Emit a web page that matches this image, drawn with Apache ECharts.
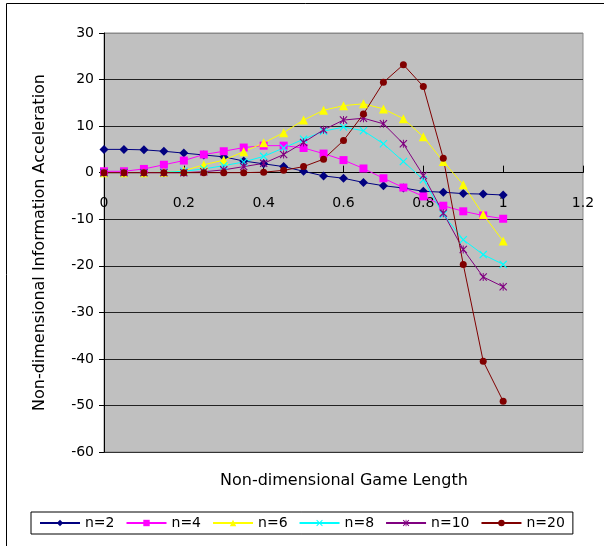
<!DOCTYPE html>
<html>
<head>
<meta charset="utf-8">
<script src="https://cdn.jsdelivr.net/npm/echarts@6/dist/echarts.min.js"></script>
<style>html,body{margin:0;padding:0;background:#fff;}#c{width:604px;height:546px;}</style>
</head>
<body>
<div id="c"></div>
<script>
const xs = [0,0.05,0.1,0.15,0.2,0.25,0.3,0.35,0.4,0.45,0.5,0.55,0.6,0.65,0.7,0.75,0.8,0.85,0.9,0.95,1.0];
const n2  = [5,5,4.9,4.6,4.2,3.8,3.4,2.5,1.9,1.3,0.3,-0.7,-1.2,-2.1,-2.8,-3.3,-4.0,-4.2,-4.5,-4.6,-4.8];
const n4  = [0.3,0.3,0.8,1.7,2.6,3.9,4.6,5.4,5.8,5.8,5.3,4.1,2.7,0.9,-1.2,-3.2,-5.1,-7.1,-8.3,-9.2,-9.9];
const n6  = [0,0,0,0.1,0.4,1.7,2.7,4.5,6.4,8.6,11.3,13.4,14.4,14.8,13.7,11.6,7.7,2.4,-2.6,-9.0,-14.7];
const n8  = [0,0,0,0.1,0.3,0.8,1.5,2.3,3.5,5.3,7.2,8.9,9.8,9.0,6.2,2.4,-1.5,-9.0,-14.4,-17.6,-19.7];
const n10 = [0,0,0,0,0,0.2,0.6,1.3,2.0,3.9,6.5,9.2,11.3,11.7,10.5,6.2,-0.6,-8.7,-16.5,-22.4,-24.5];
const n20 = [0,0,0,0,0,0,0,0,0.1,0.5,1.3,2.9,6.9,12.6,19.4,23.2,18.5,3.1,-19.7,-40.5,-49.1];
const names = ['n=2','n=4','n=6','n=8','n=10','n=20'];
const yTicks = [-60,-50,-40,-30,-20,-10,0,10,20,30];
const xTicks = [0,0.2,0.4,0.6,0.8,1.0,1.2];

const FONT = 'DejaVu Sans';
const xSym = 'path://M0,1L1,0L5,4L9,0L10,1L6,5L10,9L9,10L5,6L1,10L0,9L4,5Z';
const starSym = 'path://M0,1L1,0L5,4L9,0L10,1L6,5L10,9L9,10L5,6L1,10L0,9L4,5Z M4.4,0L5.6,0L5.6,10L4.4,10Z';
const styles = [
  {c:'#000080', s:'diamond', z:9},
  {c:'#FF00FF', s:'rect', z:8},
  {c:'#FFFF00', s:'triangle', z:9},
  {c:'#00FFFF', s:xSym, z:8},
  {c:'#800080', s:starSym, z:8},
  {c:'#800000', s:'circle', z:7}
];
const all = [n2,n4,n6,n8,n10,n20];
const series = all.map((arr,i)=>({
  name: names[i],
  type: 'line',
  data: xs.map((x,j)=>[x,arr[j]]),
  symbol: styles[i].s,
  symbolSize: styles[i].z,
  showAllSymbol: true,
  lineStyle: {color: styles[i].c, width: 1},
  itemStyle: {color: styles[i].c},
  emphasis: {disabled: true},
  animation: false
}));

const GRID = {left: 104, right: 21, top: 33, bottom: 94};
const plotH = 546 - GRID.top - GRID.bottom;
const yMin = yTicks[0], yMax = yTicks[yTicks.length-1];
const zeroOffset = -(0 - yMin) / (yMax - yMin) * plotH;

const chart = echarts.init(document.getElementById('c'));
chart.setOption({
  animation: false,
  textStyle: {fontFamily: FONT},
  grid: Object.assign({show: true, backgroundColor: '#C0C0C0', borderColor: '#8a8a8a', borderWidth: 1}, GRID),
  xAxis: {
    type: 'value', min: xTicks[0], max: xTicks[xTicks.length-1], interval: 0.2,
    position: 'bottom',
    offset: zeroOffset,
    axisLine: {onZero: false, lineStyle: {color: '#000', width: 1}},
    axisTick: {inside: true, length: 7, lineStyle: {color: '#000'}},
    axisLabel: {color: '#000', fontSize: 14, margin: 24, fontFamily: FONT},
    splitLine: {show: false}
  },
  yAxis: {
    type: 'value', min: yMin, max: yMax, interval: 10,
    name: 'Non-dimensional Information Acceleration',
    nameLocation: 'middle', nameGap: 56, nameRotate: 90,
    nameTextStyle: {color: '#000', fontSize: 16, fontFamily: FONT},
    axisLine: {show: true, lineStyle: {color: '#000', width: 1}},
    axisTick: {show: true, length: 5, lineStyle: {color: '#000'}},
    axisLabel: {color: '#000', fontSize: 14, margin: 10, fontFamily: FONT},
    splitLine: {show: true, lineStyle: {color: ['#333','#222','#222','#222','#222','#222','#222','#222','#222','#8a8a8a'], width: 1}}
  },
  legend: {
    data: names,
    left: 31, top: 512,
    orient: 'horizontal',
    borderColor: '#000', borderWidth: 1,
    padding: [4, 8],
    itemGap: 11,
    itemWidth: 40, itemHeight: 8,
    textStyle: {color: '#000', fontSize: 14, fontFamily: FONT}
  },
  graphic: [
    {type: 'text', left: 220, top: 473, style: {text: 'Non-dimensional Game Length', fill: '#000', font: '16px ' + FONT}},
    {type: 'line', shape: {x1: 6.5, y1: 3.5, x2: 6.5, y2: 546}, style: {stroke: '#000', lineWidth: 1}},
    {type: 'line', shape: {x1: 6.5, y1: 3.5, x2: 604, y2: 3.5}, style: {stroke: '#000', lineWidth: 1}}
  ],
  series: series
});
</script>
</body>
</html>
